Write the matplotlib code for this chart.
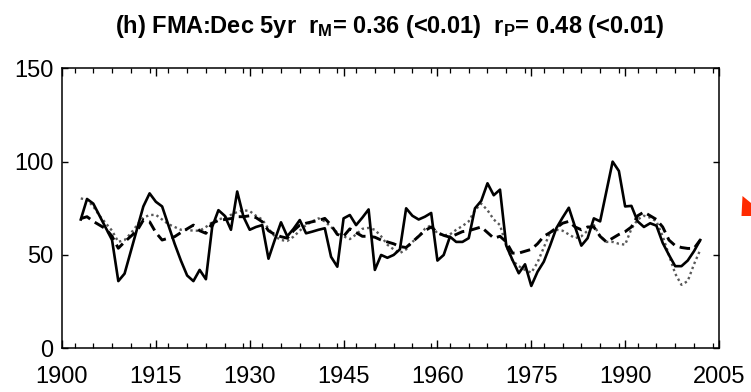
"""Panel (h): FMA vs Dec 5yr series, three smoothed curves."""

import matplotlib

matplotlib.use("Agg")
import matplotlib.pyplot as plt
from matplotlib.patches import Polygon
from matplotlib.ticker import MultipleLocator

# ---- data ----
years = list(range(1903, 2003))

observed = [
    69, 80, 77.5, 71, 64.5, 58, 36, 40, 52, 64,
    76, 83, 78.5, 76, 66, 56, 47, 39, 36, 42,
    37, 65, 74, 71, 63.5, 84, 70.5, 63.5, 65, 66,
    48, 58, 67.5, 60, 64, 68.7, 61.6, 62.5, 63.5, 64.3,
    49, 43.7, 69.6, 71.4, 66, 70, 74.4, 42, 50, 48.5,
    50, 53, 75, 71, 69, 70.5, 72.5, 47, 50, 59.8,
    57, 57, 59, 75, 79, 88.4, 82, 85, 55, 47.3,
    40.2, 45, 33.4, 41, 46.4, 55, 64.3, 70, 75.3, 65,
    55, 59, 69.6, 68, 84, 100, 95, 76, 76.3, 68,
    65, 67, 65.7, 56.5, 50, 44, 44, 47, 52, 58,
]

model_m = [
    69.5, 70.5, 68, 66, 64, 60, 53.6, 57, 60, 63,
    68.7, 67.8, 62, 58, 59, 59.8, 62, 64, 66, 63,
    61.6, 67, 68.5, 69, 69.5, 70.5, 70.5, 71, 70, 67.8,
    63, 61, 59.8, 59, 63, 66, 67, 67.8, 68.5, 69.6,
    66, 61, 60, 64, 62, 60, 60, 59.5, 58, 57,
    56, 54.5, 54, 57, 60, 63, 65, 62, 60.5, 59.5,
    61, 62.5, 63, 64, 65, 62, 59, 60, 57, 51,
    51, 52, 53, 56, 60, 62, 64.5, 67, 68, 65,
    63.5, 65, 65, 60, 57, 59, 61, 62.5, 65, 71,
    73, 71, 69, 65, 58, 55, 54, 53.5, 53.5, 58,
]

model_p = [
    80.3, 79.5, 76, 71, 67, 63, 57, 58, 61.6, 66,
    70, 71.4, 71.5, 69, 66.5, 65, 63.5, 63.4, 63, 63,
    65, 67.5, 69, 70, 71.5, 73, 74, 73.5, 71, 69,
    64, 60, 58, 57.5, 59.8, 63, 66, 68, 69.6, 68,
    65, 62, 60, 58.5, 61, 64, 64.5, 63.5, 60, 55.5,
    53, 51, 53, 57, 60, 64, 66, 61.5, 60.5, 61,
    63.5, 65.5, 68, 74, 77.5, 74, 69, 66, 55, 47,
    44, 42, 40.5, 46, 54, 62, 63.5, 63, 61, 59,
    60, 63, 66, 60, 57, 57, 56, 55.5, 64, 69,
    71, 70, 68, 60, 50, 40, 34, 36, 45, 52.7,
]

x_ticks = list(range(1900, 2006, 15))
y_ticks = [0, 50, 100, 150]

title = (r"(h) FMA:Dec 5yr  r$_{\mathrm{M}}$= 0.36 (<0.01)  "
         r"r$_{\mathrm{P}}$= 0.48 (<0.01)")

# ---- style ----
FONT = ["Liberation Sans", "DejaVu Sans"]
plt.rcParams["font.family"] = FONT
plt.rcParams["mathtext.fontset"] = "custom"
plt.rcParams["mathtext.rm"] = "Liberation Sans:bold"
plt.rcParams["mathtext.it"] = "Liberation Sans:bold"
plt.rcParams["mathtext.bf"] = "Liberation Sans:bold"

W, H = 751, 392
fig = plt.figure(figsize=(W / 100, H / 100), dpi=100)
ax = fig.add_axes([62 / W, 1 - 348.3 / H, (719 - 62) / W, (348.3 - 68.3) / H])

ax.plot(years, model_p, color="0.35", lw=1.7, ls=(0, (1, 1.3)))
ax.plot(years, model_m, color="black", lw=2.1, ls=(0, (3.6, 1.9)))
ax.plot(years, observed, color="black", lw=1.9, ls="-")

ax.set_xlim(1900, 2005)
ax.set_ylim(0, 150)
ax.set_xticks(x_ticks)
ax.set_yticks(y_ticks)
ax.xaxis.set_minor_locator(MultipleLocator(3))

for s in ax.spines.values():
    s.set_linewidth(1.1)

ax.tick_params(axis="x", which="major", direction="in", length=6, width=1.0,
               top=True, labelsize=17, pad=13)
ax.tick_params(axis="x", which="minor", direction="in", length=3.5, width=0.9,
               top=True)
ax.tick_params(axis="y", which="major", direction="in", length=4.5, width=1.0,
               right=True, labelsize=17, pad=6)

fig.text(390 / W, 1 - 27 / H, title, ha="center", va="center",
         fontsize=17, fontweight="bold")

# red marker clipped at the right edge of the frame
fig.patches.append(Polygon(
    [(742.5 / W, 1 - 196 / H), (751 / W, 1 - 203 / H),
     (751 / W, 1 - 216 / H), (741.5 / W, 1 - 216 / H)],
    closed=True, transform=fig.transFigure, facecolor="#ff2a00",
    edgecolor="none"))

fig.savefig("out.png", dpi=100)
